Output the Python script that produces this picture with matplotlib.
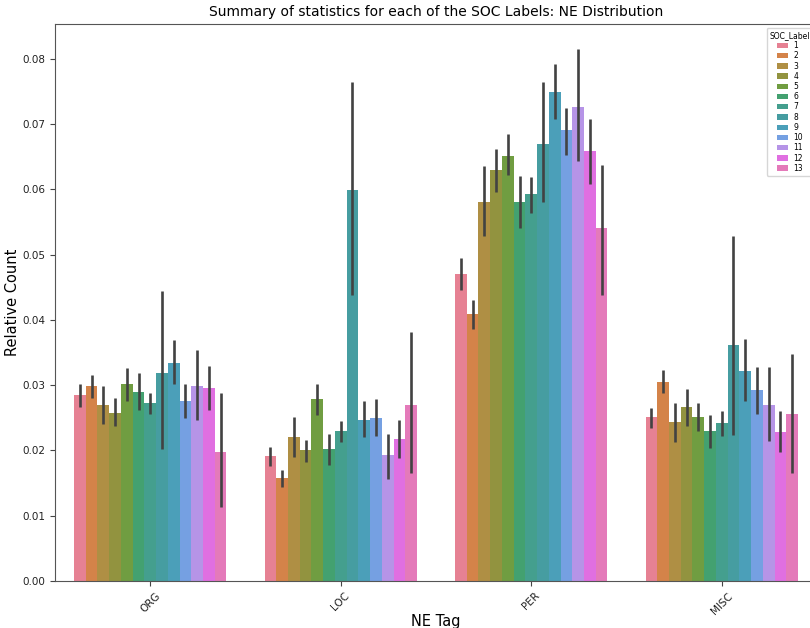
import matplotlib
matplotlib.use("Agg")
import matplotlib.pyplot as plt
import seaborn as sns
import numpy as np

ne_tags = ["ORG", "LOC", "PER", "MISC"]
soc_labels = ["1", "2", "3", "4", "5", "6", "7", "8", "9", "10", "11", "12", "13"]

mean_org = [0.0285, 0.0298, 0.0269, 0.0257, 0.0301, 0.0290, 0.0273, 0.0318, 0.0334, 0.0275, 0.0298, 0.0295, 0.0197]
mean_loc = [0.0191, 0.0157, 0.0220, 0.0201, 0.0279, 0.0202, 0.0229, 0.0599, 0.0247, 0.0249, 0.0193, 0.0218, 0.0269]
mean_per = [0.0470, 0.0409, 0.0580, 0.0630, 0.0651, 0.0580, 0.0592, 0.0669, 0.0749, 0.0690, 0.0726, 0.0659, 0.0540]
mean_misc = [0.0251, 0.0305, 0.0243, 0.0266, 0.0251, 0.0229, 0.0242, 0.0361, 0.0321, 0.0292, 0.0270, 0.0228, 0.0256]

lo_org = [0.0266, 0.0281, 0.0241, 0.0237, 0.0276, 0.0262, 0.0255, 0.0202, 0.0302, 0.0249, 0.0247, 0.0262, 0.0114]
hi_org = [0.0302, 0.0315, 0.0298, 0.0280, 0.0326, 0.0318, 0.0288, 0.0444, 0.0369, 0.0302, 0.0353, 0.0330, 0.0288]
lo_loc = [0.0176, 0.0144, 0.0190, 0.0182, 0.0254, 0.0178, 0.0213, 0.0438, 0.0221, 0.0222, 0.0156, 0.0189, 0.0165]
hi_loc = [0.0205, 0.0170, 0.0251, 0.0216, 0.0302, 0.0225, 0.0245, 0.0764, 0.0275, 0.0278, 0.0225, 0.0247, 0.0382]
lo_per = [0.0446, 0.0386, 0.0528, 0.0596, 0.0621, 0.0541, 0.0564, 0.0580, 0.0708, 0.0653, 0.0643, 0.0608, 0.0438]
hi_per = [0.0495, 0.0430, 0.0636, 0.0661, 0.0684, 0.0620, 0.0619, 0.0764, 0.0791, 0.0724, 0.0815, 0.0707, 0.0637]
lo_misc = [0.0235, 0.0288, 0.0213, 0.0237, 0.0229, 0.0204, 0.0222, 0.0224, 0.0276, 0.0256, 0.0215, 0.0198, 0.0165]
hi_misc = [0.0265, 0.0323, 0.0272, 0.0294, 0.0272, 0.0254, 0.0261, 0.0529, 0.0370, 0.0328, 0.0327, 0.0260, 0.0348]

means = [mean_org, mean_loc, mean_per, mean_misc]
los = [lo_org, lo_loc, lo_per, lo_misc]
his = [hi_org, hi_loc, hi_per, hi_misc]

pal = sns.color_palette("husl", len(soc_labels))
pal = [sns.desaturate(c, 0.75) for c in pal]

fig = plt.figure(figsize=(8.1, 6.28), dpi=100)
ax = fig.add_axes([55/810, (628-581)/628, (817-55)/810, (581-24)/628])

n = len(soc_labels)
w = 0.8 / n
x = np.arange(len(ne_tags))
for j in range(n):
    xs = x - 0.4 + (j + 0.5) * w
    vals = [means[i][j] for i in range(len(ne_tags))]
    ax.bar(xs, vals, width=w, color=pal[j], label=soc_labels[j], zorder=2)
    for i in range(len(ne_tags)):
        ax.plot([xs[i], xs[i]], [los[i][j], his[i][j]], color=".26", lw=1.9,
                solid_capstyle="butt", zorder=3)

ax.set_xlim(-0.5, 3.5)
ax.set_ylim(0, 0.0853)
yt = np.arange(0, 0.081, 0.01)
ax.set_yticks(yt)
ax.set_yticklabels([f"{v:.2f}" for v in yt])
ax.set_xticks(x)
ax.set_xticklabels(ne_tags, rotation=45)
ax.tick_params(axis="both", labelsize=7.5, colors="#444444", labelcolor="#222222")
for s in ax.spines.values():
    s.set_color("#555555")
ax.set_xlabel("NE Tag", fontsize=10.5, labelpad=-1.5)
ax.set_ylabel("Relative Count", fontsize=10.5, labelpad=1.5)
ax.set_title("Summary of statistics for each of the SOC Labels: NE Distribution", fontsize=10)

leg = ax.legend(title="SOC_Label", loc="upper right", fontsize=5.5, title_fontsize=5.5,
                handlelength=1.5, handletextpad=0.7, labelspacing=0.16, borderaxespad=0.5)
fig.savefig("out.png", dpi=100)
